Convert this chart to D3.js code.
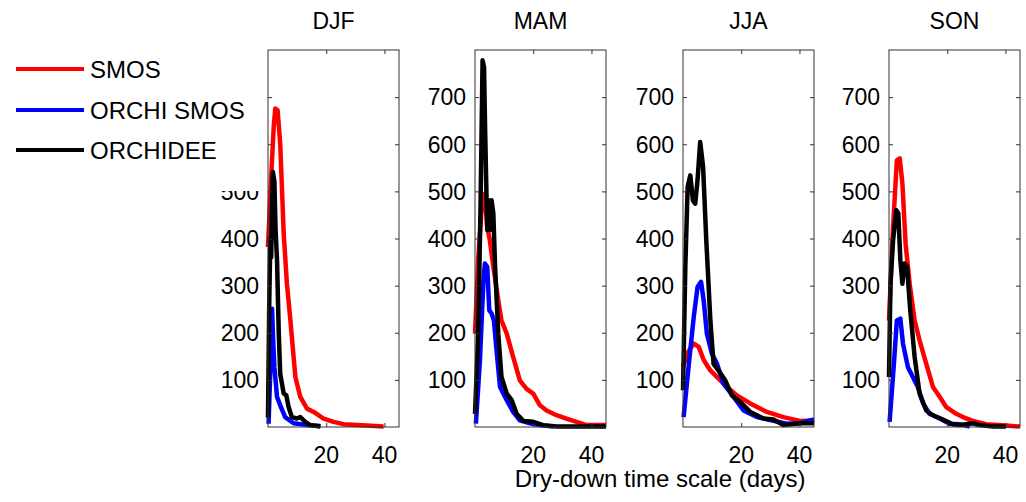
<!DOCTYPE html>
<html>
<head>
<meta charset="utf-8">
<script src="https://cdn.jsdelivr.net/npm/d3@7"></script>
<style>
  body { margin: 0; background: #fff; }
  svg { display: block; font-family: "Liberation Sans", Arial, sans-serif; }
</style>
</head>
<body>
<svg id="chart" width="1026" height="502"></svg>
<script>
// seasons and series
var seasons = ["DJF", "MAM", "JJA", "SON"]
var seriesNames = ["SMOS", "ORCHI SMOS", "ORCHIDEE"]
var seriesColors = ["#ff0000", "#0000ff", "#000000"]
var xTicks = [20, 40]
var yTicks = [100, 200, 300, 400, 500, 600, 700]

// [days, count]
var djfSmos = [[0,382],[1,520],[2,640],[2.5,676],[3.3,672],[4.2,601],[5.4,410],[6.5,304],[7.7,226],[9.4,106],[11.1,64],[13.4,39],[15.7,32],[19.1,18],[22.5,11],[25.9,6],[33.9,3],[39.7,1]]
var djfOrchiSmos = [[0.2,7],[0.8,120],[1.4,251],[1.8,180],[2.2,127],[3.1,64],[4.2,46],[5.9,21],[8.8,8],[13.4,4],[18,2]]
var djfOrchidee = [[0,20],[0.4,250],[0.8,400],[1.1,360],[1.4,480],[1.7,541],[2.2,520],[2.6,420],[3.1,354],[3.7,198],[4.2,113],[5.4,71],[6.3,67],[7.1,42],[8.2,21],[9.9,18],[11.1,21],[12.8,11],[14.5,4],[18,1]]

var mamSmos = [[0,198],[1.1,354],[2.6,495],[3.4,488],[4.2,425],[5.1,396],[6.3,340],[8,269],[9.1,226],[10.9,198],[13.1,149],[15.4,99],[17.7,81],[20,71],[22.3,46],[24.6,35],[28,25],[31.4,18],[34.9,11],[38.3,4],[45,4]]
var mamOrchiSmos = [[0.3,7],[1.7,142],[2.9,311],[3.4,347],[4.2,340],[4.9,248],[5.7,241],[6.5,226],[7.4,163],[8.6,85],[10.9,57],[13.1,32],[15.4,14],[18.9,8],[22.3,4],[26.9,1]]
var mamOrchidee = [[0,28],[1.1,198],[1.9,467],[2.6,778],[3.1,764],[3.5,623],[4.2,418],[4.7,481],[5.1,418],[5.7,481],[6.3,453],[6.9,340],[8,198],[9.1,106],[10.9,71],[12.6,57],[14.3,28],[16.6,13],[20,11],[23.4,4],[28,1],[45,1]]

var jjaSmos = [[0,127],[1.4,156],[3.7,177],[5.4,170],[7.1,142],[9.4,120],[11.7,106],[15.1,85],[18.5,67],[23.1,50],[28.8,32],[34.5,21],[40.2,13],[45,14]]
var jjaOrchiSmos = [[0.2,21],[1.9,127],[3.7,234],[5,297],[6.2,308],[7.1,269],[8.2,198],[9.9,156],[11.7,134],[13.9,92],[17.4,64],[20.8,35],[25.4,21],[31.1,13],[35.7,7],[40.2,8],[45,16]]
var jjaOrchidee = [[0,78],[0.8,340],[1.6,510],[2.5,534],[3.4,481],[4.2,474],[5,524],[5.9,605],[6.9,552],[8,396],[9.4,226],[10.5,134],[12.2,120],[14.5,99],[16.8,67],[19.7,53],[23.1,32],[27.7,18],[31.1,16],[34.5,4],[40.2,8],[45,8]]

var sonSmos = [[0,226],[1.4,425],[2.7,566],[3.7,570],[4.6,517],[5.7,389],[7.1,304],[8.8,226],[10.5,184],[12.8,134],[15.1,85],[17.4,64],[19.7,42],[23.1,28],[25.4,21],[28.8,13],[33.4,6],[40.2,3],[45,1]]
var sonOrchiSmos = [[0.2,11],[1.6,127],[2.7,226],[3.9,230],[4.8,177],[6.5,127],[8.2,106],[9.9,85],[11.7,50],[13.9,28],[17.4,18],[20.8,7],[24.2,6],[27.7,1]]
var sonOrchidee = [[0,106],[0.5,304],[1.4,396],[2.5,460],[3.2,453],[3.9,354],[4.6,304],[5.3,347],[6.2,340],[7.3,248],[8.8,149],[10.5,71],[12.8,35],[15.1,25],[18.5,16],[21.9,6],[24.2,4],[26.5,6],[28.8,8],[31.1,4],[35.7,1],[40.2,1]]

var panelData = [
    [djfSmos, djfOrchiSmos, djfOrchidee],
    [mamSmos, mamOrchiSmos, mamOrchidee],
    [jjaSmos, jjaOrchiSmos, jjaOrchidee],
    [sonSmos, sonOrchiSmos, sonOrchidee]
]

var svg = d3.select("#chart")
var panelLefts = [268, 475, 683, 889]
var pw = 131, plotTop = 50, ph = 377
var fs = 23

var y = d3.scaleLinear().domain([0, 800]).range([plotTop + ph, plotTop])
var xs = panelLefts.map(function(l) {
    return d3.scaleLinear().domain([0, 45]).range([l, l + pw])
})

var layerMarks = svg.append("g")
var layerLegBg = svg.append("g")
var layerAxes = svg.append("g")
var layerLeg = svg.append("g")

seasons.forEach(function(s, i) {
    var x = xs[i]
    var x0 = panelLefts[i], x1 = panelLefts[i] + pw
    var g = layerMarks.append("g").attr("class", "panel")

    g.append("text")
        .attr("x", x0 + pw / 2)
        .attr("y", 29)
        .attr("text-anchor", "middle")
        .style("font-size", fs + "px")
        .text(s)

    var line = d3.line()
        .x(function(d) { return x(d[0]) })
        .y(function(d) { return y(d[1]) })

    panelData[i].forEach(function(ser, k) {
        g.append("path")
            .datum(ser)
            .attr("d", line)
            .attr("fill", "none")
            .attr("stroke", seriesColors[k])
            .attr("stroke-width", 4.5)
            .attr("stroke-linejoin", "round")
    })

    g.selectAll(".ylab").data(yTicks).enter().append("text")
        .attr("class", "ylab")
        .attr("x", x0 - 9)
        .attr("y", function(d) { return y(d) })
        .attr("dy", "0.36em")
        .attr("text-anchor", "end")
        .style("font-size", fs + "px")
        .text(function(d) { return d })

    g.selectAll(".xlab").data(xTicks).enter().append("text")
        .attr("class", "xlab")
        .attr("x", function(d) { return x(d) })
        .attr("y", 463)
        .attr("text-anchor", "middle")
        .style("font-size", fs + "px")
        .text(function(d) { return d })

    // box + inward ticks on all four sides
    var a = layerAxes.append("g")
    a.append("rect")
        .attr("x", x0).attr("y", plotTop)
        .attr("width", pw).attr("height", ph)
        .attr("fill", "none")
        .attr("stroke", "#333")
    a.append("g").attr("transform", "translate(" + x0 + ",0)")
        .call(d3.axisLeft(y).tickValues(yTicks).tickSizeInner(-4).tickSizeOuter(0).tickFormat(""))
    a.append("g").attr("transform", "translate(" + x1 + ",0)")
        .call(d3.axisRight(y).tickValues(yTicks).tickSizeInner(-4).tickSizeOuter(0).tickFormat(""))
    a.append("g").attr("transform", "translate(0," + (plotTop + ph) + ")")
        .call(d3.axisBottom(x).tickValues(xTicks).tickSizeInner(-4).tickSizeOuter(0).tickFormat(""))
    a.append("g").attr("transform", "translate(0," + plotTop + ")")
        .call(d3.axisTop(x).tickValues(xTicks).tickSizeInner(-4).tickSizeOuter(0).tickFormat(""))
    a.selectAll(".domain").remove()
    a.selectAll(".tick line").attr("stroke", "#333")
})

// legend box covers part of the first panel's labels
layerLegBg.append("rect")
    .attr("x", 0).attr("y", 44)
    .attr("width", 266).attr("height", 147)
    .attr("fill", "#fff")

var legY = [69, 110, 150]
seriesNames.forEach(function(n, k) {
    layerLeg.append("line")
        .attr("x1", 16).attr("x2", 84)
        .attr("y1", legY[k]).attr("y2", legY[k])
        .attr("stroke", seriesColors[k])
        .attr("stroke-width", 4)
    layerLeg.append("text")
        .attr("x", 90)
        .attr("y", legY[k] + 9)
        .style("font-size", "24px")
        .text(n)
})

svg.append("text")
    .attr("x", 660)
    .attr("y", 487)
    .attr("text-anchor", "middle")
    .style("font-size", "24px")
    .text("Dry-down time scale (days)")
</script>
</body>
</html>
